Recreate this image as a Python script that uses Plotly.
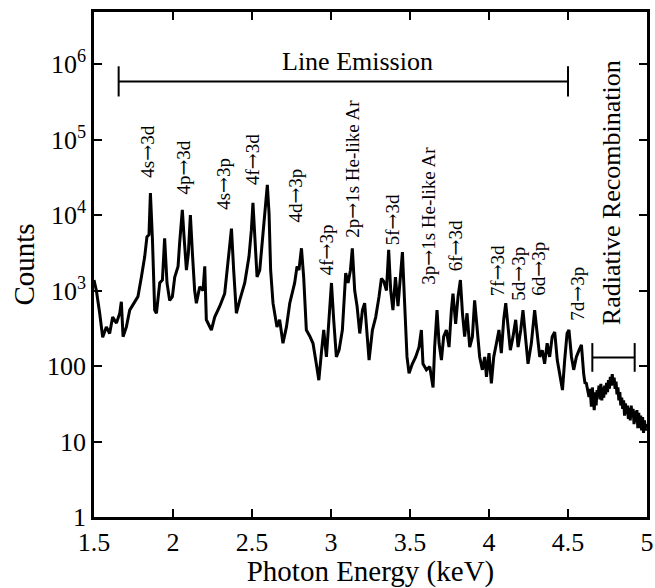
import plotly.graph_objects as go

# ---------------- data ----------------
energy_keV = [
    1.500, 1.515, 1.536, 1.555, 1.578, 1.599, 1.618, 1.642, 1.663, 1.673,
    1.684, 1.705, 1.726, 1.747, 1.778, 1.800, 1.821, 1.835, 1.848, 1.857,
    1.870, 1.884, 1.895, 1.916, 1.933, 1.947, 1.962, 1.979, 1.996, 2.011,
    2.032, 2.042, 2.059, 2.070, 2.085, 2.097, 2.110, 2.123, 2.137, 2.148,
    2.169, 2.190, 2.201, 2.211, 2.243, 2.264, 2.296, 2.327, 2.348, 2.370,
    2.384, 2.401, 2.422, 2.454, 2.481, 2.496, 2.506, 2.517, 2.532, 2.549,
    2.570, 2.587, 2.597, 2.608, 2.618, 2.633, 2.658, 2.675, 2.696, 2.718,
    2.739, 2.770, 2.785, 2.797, 2.813, 2.827, 2.844, 2.865, 2.886, 2.907,
    2.923, 2.939, 2.954, 2.971, 2.987, 3.003, 3.017, 3.034, 3.051, 3.072,
    3.093, 3.108, 3.123, 3.135, 3.150, 3.165, 3.182, 3.199, 3.213, 3.224,
    3.241, 3.262, 3.283, 3.304, 3.319, 3.334, 3.351, 3.365, 3.378, 3.392,
    3.408, 3.424, 3.439, 3.452, 3.466, 3.481, 3.494, 3.515, 3.536, 3.557,
    3.572, 3.582, 3.604, 3.625, 3.646, 3.656, 3.671, 3.684, 3.699, 3.713,
    3.730, 3.747, 3.762, 3.772, 3.789, 3.804, 3.819, 3.832, 3.846, 3.861,
    3.878, 3.895, 3.909, 3.924, 3.941, 3.958, 3.973, 3.984, 4.000, 4.015,
    4.030, 4.047, 4.063, 4.078, 4.093, 4.106, 4.120, 4.135, 4.152, 4.169,
    4.184, 4.201, 4.215, 4.232, 4.247, 4.268, 4.289, 4.305, 4.321, 4.337,
    4.352, 4.368, 4.384, 4.400, 4.416, 4.432, 4.447, 4.465, 4.479, 4.494,
    4.506, 4.522, 4.536, 4.553, 4.570, 4.585,
    4.599, 4.607, 4.616, 4.624, 4.633, 4.640, 4.648, 4.654, 4.660, 4.666,
    4.672, 4.678, 4.684, 4.690, 4.696, 4.702, 4.708, 4.714, 4.720, 4.726,
    4.732, 4.738, 4.744, 4.750, 4.756, 4.762, 4.768, 4.774, 4.780, 4.786,
    4.792, 4.798, 4.804, 4.810, 4.816, 4.822, 4.828, 4.834, 4.840, 4.846,
    4.852, 4.858, 4.864, 4.870, 4.876, 4.882, 4.888, 4.894, 4.900, 4.906,
    4.912, 4.918, 4.924, 4.930, 4.936, 4.942, 4.948, 4.954, 4.960, 4.966,
    4.972, 4.978, 4.984, 4.990, 4.996, 5.000,
]
counts = [
    1380, 1000, 500, 240, 330, 270, 445, 370, 500, 710,
    245, 330, 550, 645, 830, 1510, 2820, 5130, 5500, 19500,
    4680, 550, 500, 1260, 1380, 4900, 1260, 740, 830, 1510,
    2090, 4270, 11700, 5130, 1860, 3090, 10000, 3090, 1000, 680,
    1120, 1000, 2090, 410, 300, 445, 620, 910, 2510, 6600,
    1860, 500, 740, 1260, 2820, 6310, 14500, 5130, 1510, 1860,
    6310, 17400, 25100, 10500, 1860, 680, 330, 410, 200, 330,
    680, 1260, 2090, 1860, 3630, 1510, 300, 250, 200, 107,
    65, 148, 300, 132, 445, 1260, 410, 132, 162, 300,
    1700, 1260, 1860, 3630, 1000, 620, 270, 550, 680, 300,
    120, 300, 445, 830, 1450, 1320, 1000, 3470, 1000, 550,
    1510, 620, 1510, 3240, 680, 132, 80, 107, 132, 178,
    300, 107, 89, 98, 52, 178, 550, 200, 120, 245,
    300, 178, 550, 910, 363, 830, 1380, 500, 245, 500,
    178, 245, 740, 330, 132, 89, 132, 72, 148, 59,
    132, 200, 300, 148, 410, 680, 300, 162, 245, 410,
    178, 300, 550, 200, 107, 200, 550, 270, 132, 162,
    107, 200, 132, 245, 282, 120, 80, 48, 120, 270,
    300, 132, 89, 132, 162, 190,
    80, 60, 59, 45, 39, 50, 29, 52, 36, 26,
    45, 30, 48, 40, 55, 36, 58, 35, 52, 38,
    55, 42, 60, 45, 65, 50, 72, 55, 78, 56,
    70, 50, 62, 42, 52, 35, 45, 30, 38, 27,
    35, 22, 32, 23, 30, 20, 28, 19, 30, 21,
    27, 17, 25, 18, 26, 15, 24, 15, 22, 14,
    21, 13, 19, 14, 17, 15,
]

x_tick_vals = [1.5, 2, 2.5, 3, 3.5, 4, 4.5, 5]
x_tick_text = ["1.5", "2", "2.5", "3", "3.5", "4", "4.5", "5"]
y_tick_vals = [1, 10, 100, 1e3, 1e4, 1e5, 1e6]
y_tick_text = ["1", "10", "100", "10<sup>3</sup>", "10<sup>4</sup>",
               "10<sup>5</sup>", "10<sup>6</sup>"]

# transition labels: text, energy (centre), log10(counts) at label foot
line_labels = ["4s→3d", "4p→3d", "4s→3p", "4f→3d", "4d→3p", "4f→3p",
               "2p→1s He-like Ar", "5f→3d", "3p→1s He-like Ar", "6f→3d",
               "7f→3d", "5d→3p", "6d→3p", "7d→3p"]
label_energy = [1.834, 2.061, 2.315, 2.504, 2.770, 2.967,
                3.131, 3.391, 3.612, 3.783,
                4.048, 4.181, 4.308, 4.555]
label_foot_log = [4.466, 4.24, 4.04, 4.373, 3.869, 3.179,
                  3.669, 3.577, 3.046, 3.232,
                  2.90, 2.834, 2.90, 2.569]

# region brackets: [start, end] energy, counts level
line_emission_span = [1.656, 4.5]
line_emission_level = 5.9e5
recomb_span = [4.654, 4.922]
recomb_level = 130

FONT = "Liberation Serif"
ARROW = '<span style="font-family:DejaVu Serif">→</span>'

fig = go.Figure()
fig.add_trace(go.Scatter(x=energy_keV, y=counts, mode="lines",
                         line=dict(color="black", width=3), showlegend=False,
                         hoverinfo="skip"))


def bracket(span, level, cap_dec):
    lo = level / 10 ** cap_dec
    hi = level * 10 ** cap_dec
    fig.add_trace(go.Scatter(
        x=[span[0], span[1], None, span[0], span[0], None, span[1], span[1]],
        y=[level, level, None, lo, hi, None, lo, hi],
        mode="lines", line=dict(color="black", width=2), showlegend=False,
        hoverinfo="skip"))


bracket(line_emission_span, line_emission_level, 0.2)
bracket(recomb_span, recomb_level, 0.19)

annotations = []
for txt, e, ly in zip(line_labels, label_energy, label_foot_log):
    annotations.append(dict(x=e, y=ly, xref="x", yref="y",
                            text=txt.replace("→", ARROW),
                            textangle=-90, showarrow=False,
                            xanchor="center", yanchor="bottom",
                            font=dict(family=FONT, size=19, color="black")))
annotations.append(dict(x=3.166, y=6.03, xref="x", yref="y",
                        text="Line Emission", showarrow=False,
                        xanchor="center", yanchor="middle",
                        font=dict(family=FONT, size=26, color="black")))
annotations.append(dict(x=4.776, y=2.516, xref="x", yref="y",
                        text="Radiative Recombination", textangle=-90,
                        showarrow=False, xanchor="center", yanchor="bottom",
                        font=dict(family=FONT, size=26, color="black")))

axis_common = dict(ticks="inside", ticklen=8, tickwidth=2, tickcolor="black",
                   showline=True, linewidth=2.5, linecolor="black",
                   mirror="allticks", showgrid=False, zeroline=False,
                   tickfont=dict(family=FONT, size=26, color="black"))

fig.update_layout(
    width=655, height=588,
    margin=dict(l=94, r=8, t=12, b=71, autoexpand=False),
    plot_bgcolor="white", paper_bgcolor="white",
    annotations=annotations,
    xaxis=dict(range=[1.5, 5], tickmode="array", tickvals=x_tick_vals,
               ticktext=x_tick_text,
               title=dict(text="Photon Energy (keV)", standoff=4,
                          font=dict(family=FONT, size=29, color="black")),
               **axis_common),
    yaxis=dict(type="log", range=[0, 6.69], tickmode="array",
               tickvals=y_tick_vals, ticktext=y_tick_text,
               title=dict(text="Counts", standoff=4,
                          font=dict(family=FONT, size=29, color="black")),
               **axis_common),
)

fig.write_html("out.html")
